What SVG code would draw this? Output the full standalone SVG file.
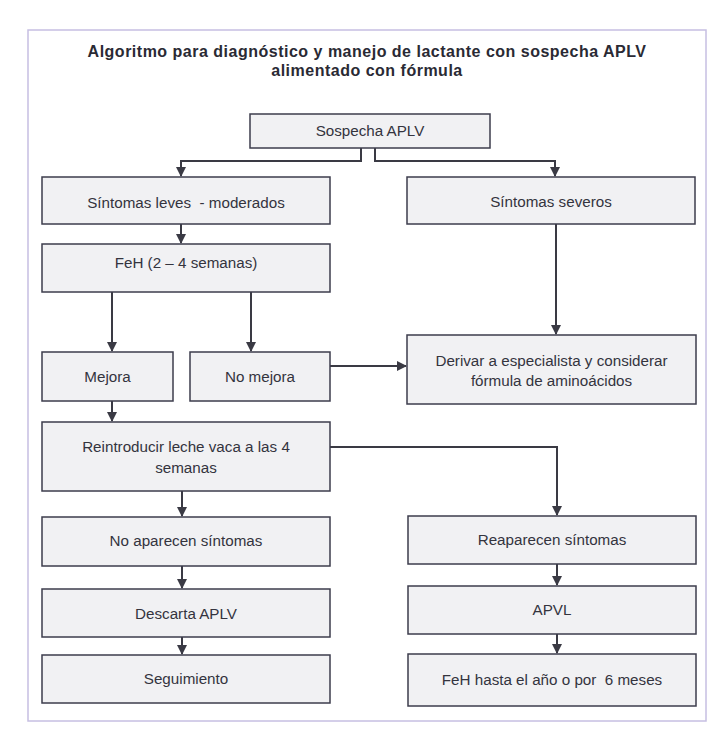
<svg xmlns="http://www.w3.org/2000/svg" width="719" height="742" viewBox="0 0 719 742">
<style>
.bx{fill:#f1f1f3;stroke:#3c3c4c;stroke-width:1.5}
.t{font-family:"Liberation Sans",Arial,sans-serif;font-size:15.2px;fill:#34343e;text-anchor:middle;white-space:pre}
.ti{font-family:"Liberation Sans",Arial,sans-serif;font-size:16px;letter-spacing:0.5px;font-weight:bold;fill:#2a2a34;text-anchor:middle}
.c{fill:none;stroke:#3a3a44;stroke-width:2}
</style>
<defs>
<marker id="ah" markerWidth="10" markerHeight="10" refX="9" refY="5" orient="auto" markerUnits="userSpaceOnUse">
<path d="M0,0 L10,5 L0,10 Z" fill="#3a3a44"/>
</marker>
</defs>
<rect x="0" y="0" width="719" height="742" fill="#ffffff"/>
<rect x="28" y="30" width="678" height="691" fill="#ffffff" stroke="#c6bfe2" stroke-width="1.5"/>
<g id="title">
<text class="ti" x="367" y="57">Algoritmo para diagnóstico y manejo de lactante con sospecha APLV</text>
<text class="ti" x="367" y="76">alimentado con fórmula</text>
</g>
<g id="connectors">
<path class="c" d="M361,148 V161 H181 V176" marker-end="url(#ah)"/>
<path class="c" d="M375,148 V161 H555 V176" marker-end="url(#ah)"/>
<path class="c" d="M181,224 V243" marker-end="url(#ah)"/>
<path class="c" d="M112,292 V351" marker-end="url(#ah)"/>
<path class="c" d="M251,292 V351" marker-end="url(#ah)"/>
<path class="c" d="M556,224 V334" marker-end="url(#ah)"/>
<path class="c" d="M330,366 H406" marker-end="url(#ah)"/>
<path class="c" d="M112,401 V421" marker-end="url(#ah)"/>
<path class="c" d="M330,447 H557 V515" marker-end="url(#ah)"/>
<path class="c" d="M182,491 V516" marker-end="url(#ah)"/>
<path class="c" d="M182,566 V588" marker-end="url(#ah)"/>
<path class="c" d="M182,637 V654" marker-end="url(#ah)"/>
<path class="c" d="M557,564 V585" marker-end="url(#ah)"/>
<path class="c" d="M557,634 V653" marker-end="url(#ah)"/>
</g>
<g id="sospecha"><rect class="bx" x="250" y="114" width="240" height="34"/><text class="t" x="370" y="136">Sospecha APLV</text></g>
<g id="leves"><rect class="bx" x="42" y="177" width="288" height="47"/><text class="t" x="186" y="208">Síntomas leves  - moderados</text></g>
<g id="severos"><rect class="bx" x="407" y="177" width="288" height="47"/><text class="t" x="551" y="207">Síntomas severos</text></g>
<g id="feh"><rect class="bx" x="42" y="244" width="288" height="48"/><text class="t" x="186" y="268">FeH (2 – 4 semanas)</text></g>
<g id="mejora"><rect class="bx" x="42" y="352" width="131" height="49"/><text class="t" x="107.5" y="382">Mejora</text></g>
<g id="nomejora"><rect class="bx" x="190" y="352" width="140" height="49"/><text class="t" x="260" y="382">No mejora</text></g>
<g id="derivar"><rect class="bx" x="407" y="335" width="289" height="69"/><text class="t" x="551.5" y="366">Derivar a especialista y considerar</text><text class="t" x="551.5" y="386">fórmula de aminoácidos</text></g>
<g id="reintroducir"><rect class="bx" x="42" y="422" width="288" height="69"/><text class="t" x="186" y="452">Reintroducir leche vaca a las 4</text><text class="t" x="186" y="473">semanas</text></g>
<g id="noaparecen"><rect class="bx" x="42" y="517" width="288" height="49"/><text class="t" x="186" y="546">No aparecen síntomas</text></g>
<g id="reaparecen"><rect class="bx" x="408" y="516" width="288" height="48"/><text class="t" x="552" y="545">Reaparecen síntomas</text></g>
<g id="descarta"><rect class="bx" x="42" y="589" width="288" height="48"/><text class="t" x="186" y="619">Descarta APLV</text></g>
<g id="apvl"><rect class="bx" x="408" y="586" width="288" height="48"/><text class="t" x="552" y="615">APVL</text></g>
<g id="seguimiento"><rect class="bx" x="42" y="655" width="288" height="48"/><text class="t" x="186" y="684">Seguimiento</text></g>
<g id="fehhasta"><rect class="bx" x="408" y="654" width="288" height="52"/><text class="t" x="552" y="685">FeH hasta el año o por  6 meses</text></g>
</svg>
